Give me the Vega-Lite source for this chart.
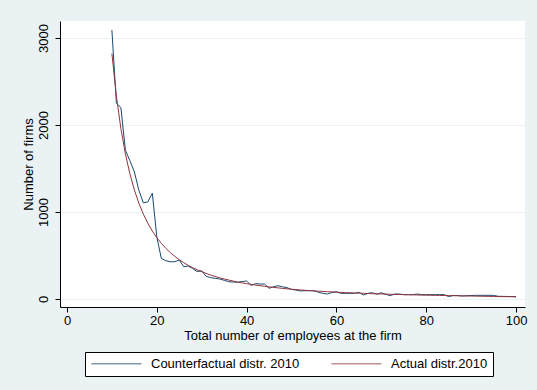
{
  "$schema": "https://vega.github.io/schema/vega-lite/v6.json",
  "autosize": {"type": "none"},
  "padding": {"left": 60, "top": 21, "right": 12, "bottom": 83},
  "width": 465,
  "height": 286,
  "background": "#EAF2F3",
  "config": {
    "view": {"fill": "white", "stroke": null},
    "font": "Liberation Sans",
    "axis": {
      "labelFont": "Liberation Sans", "titleFont": "Liberation Sans",
      "labelFontSize": 13, "titleFontSize": 13, "labelColor": "#000", "titleColor": "#000",
      "titleFontWeight": "normal", "domainColor": "#000", "tickColor": "#000",
      "tickSize": 5, "domainWidth": 1, "tickWidth": 1
    },
    "legend": {"labelFont": "Liberation Sans", "labelFontSize": 13, "labelColor": "#000"}
  },
  "datasets": {
    "cf": [
      {"employees":10,"firms":3090},{"employees":11,"firms":2250},{"employees":12,"firms":2200},{"employees":13,"firms":1711},{"employees":14,"firms":1590},
      {"employees":15,"firms":1462},{"employees":16,"firms":1250},{"employees":17,"firms":1105},{"employees":18,"firms":1115},{"employees":19,"firms":1215},
      {"employees":20,"firms":715},{"employees":21,"firms":467},{"employees":22,"firms":440},{"employees":23,"firms":428},{"employees":24,"firms":428},
      {"employees":25,"firms":448},{"employees":26,"firms":371},{"employees":27,"firms":379},{"employees":28,"firms":350},{"employees":29,"firms":315},
      {"employees":30,"firms":325},{"employees":31,"firms":260},{"employees":32,"firms":245},{"employees":33,"firms":238},{"employees":34,"firms":230},
      {"employees":35,"firms":215},{"employees":36,"firms":199},{"employees":37,"firms":195},{"employees":38,"firms":192},{"employees":39,"firms":200},
      {"employees":40,"firms":207},{"employees":41,"firms":156},{"employees":42,"firms":176},{"employees":43,"firms":172},{"employees":44,"firms":172},
      {"employees":45,"firms":123},{"employees":46,"firms":140},{"employees":47,"firms":153},{"employees":48,"firms":140},{"employees":49,"firms":130},
      {"employees":50,"firms":110},{"employees":51,"firms":103},{"employees":52,"firms":92},{"employees":53,"firms":95},{"employees":54,"firms":95},
      {"employees":55,"firms":95},{"employees":56,"firms":77},{"employees":57,"firms":65},{"employees":58,"firms":57},{"employees":59,"firms":75},
      {"employees":60,"firms":84},{"employees":61,"firms":65},{"employees":62,"firms":65},{"employees":63,"firms":65},{"employees":64,"firms":65},
      {"employees":65,"firms":77},{"employees":66,"firms":46},{"employees":67,"firms":65},{"employees":68,"firms":72},{"employees":69,"firms":55},
      {"employees":70,"firms":72},{"employees":71,"firms":54},{"employees":72,"firms":38},{"employees":73,"firms":57},{"employees":74,"firms":57},
      {"employees":75,"firms":50},{"employees":76,"firms":50},{"employees":77,"firms":50},{"employees":78,"firms":57},{"employees":79,"firms":50},
      {"employees":80,"firms":50},{"employees":81,"firms":50},{"employees":82,"firms":50},{"employees":83,"firms":50},{"employees":84,"firms":50},
      {"employees":85,"firms":28},{"employees":86,"firms":40},{"employees":87,"firms":40},{"employees":88,"firms":34},{"employees":89,"firms":38},
      {"employees":90,"firms":40},{"employees":91,"firms":42},{"employees":92,"firms":42},{"employees":93,"firms":42},{"employees":94,"firms":42},
      {"employees":95,"firms":42},{"employees":96,"firms":31},{"employees":97,"firms":30},{"employees":98,"firms":29},{"employees":99,"firms":28},
      {"employees":100,"firms":27}
    ],
    "act": [
      {"employees":10,"firms":2821},{"employees":11,"firms":2331},{"employees":12,"firms":1959},{"employees":13,"firms":1669},{"employees":14,"firms":1439},
      {"employees":15,"firms":1254},{"employees":16,"firms":1102},{"employees":17,"firms":976},{"employees":18,"firms":871},{"employees":19,"firms":781},
      {"employees":20,"firms":705},{"employees":21,"firms":640},{"employees":22,"firms":583},{"employees":23,"firms":533},{"employees":24,"firms":490},
      {"employees":25,"firms":451},{"employees":26,"firms":417},{"employees":27,"firms":387},{"employees":28,"firms":360},{"employees":29,"firms":335},
      {"employees":30,"firms":313},{"employees":31,"firms":294},{"employees":32,"firms":275},{"employees":33,"firms":259},{"employees":34,"firms":244},
      {"employees":35,"firms":230},{"employees":36,"firms":218},{"employees":37,"firms":206},{"employees":38,"firms":195},{"employees":39,"firms":185},
      {"employees":40,"firms":176},{"employees":41,"firms":168},{"employees":42,"firms":160},{"employees":43,"firms":153},{"employees":44,"firms":146},
      {"employees":45,"firms":139},{"employees":46,"firms":133},{"employees":47,"firms":128},{"employees":48,"firms":122},{"employees":49,"firms":117},
      {"employees":50,"firms":113},{"employees":51,"firms":108},{"employees":52,"firms":104},{"employees":53,"firms":100},{"employees":54,"firms":97},
      {"employees":55,"firms":93},{"employees":56,"firms":90},{"employees":57,"firms":87},{"employees":58,"firms":84},{"employees":59,"firms":81},
      {"employees":60,"firms":78},{"employees":61,"firms":76},{"employees":62,"firms":73},{"employees":63,"firms":71},{"employees":64,"firms":69},
      {"employees":65,"firms":67},{"employees":66,"firms":65},{"employees":67,"firms":63},{"employees":68,"firms":61},{"employees":69,"firms":59},
      {"employees":70,"firms":58},{"employees":71,"firms":56},{"employees":72,"firms":54},{"employees":73,"firms":53},{"employees":74,"firms":52},
      {"employees":75,"firms":50},{"employees":76,"firms":49},{"employees":77,"firms":48},{"employees":78,"firms":46},{"employees":79,"firms":45},
      {"employees":80,"firms":44},{"employees":81,"firms":43},{"employees":82,"firms":42},{"employees":83,"firms":41},{"employees":84,"firms":40},
      {"employees":85,"firms":39},{"employees":86,"firms":38},{"employees":87,"firms":37},{"employees":88,"firms":36},{"employees":89,"firms":35},
      {"employees":90,"firms":34},{"employees":91,"firms":33},{"employees":92,"firms":32},{"employees":93,"firms":31},{"employees":94,"firms":30},
      {"employees":95,"firms":29},{"employees":96,"firms":28},{"employees":97,"firms":27},{"employees":98,"firms":27},{"employees":99,"firms":26},
      {"employees":100,"firms":25}
    ]
  },
  "encoding": {
    "x": {
      "field": "employees", "type": "quantitative",
      "scale": {"domain": [-1.56, 102], "nice": false, "zero": false},
      "axis": {"values": [0, 20, 40, 60, 80, 100], "grid": false, "title": "Total number of employees at the firm",
               "labelPadding": 2, "titlePadding": 2}
    },
    "y": {
      "field": "firms", "type": "quantitative",
      "scale": {"domain": [-92, 3195], "nice": false, "zero": false},
      "axis": {"values": [0, 1000, 2000, 3000], "format": "d", "grid": true, "gridColor": "#EAF2F3", "gridWidth": 1,
               "title": "Number of firms", "labelAngle": -90, "labelAlign": "center", "labelBaseline": "bottom",
               "labelPadding": 5, "titlePadding": 2}
    },
    "color": {
      "field": "series", "type": "nominal",
      "scale": {"domain": ["Counterfactual distr. 2010", "Actual distr.2010"], "range": ["#1a476f", "#90353b"]},
      "legend": {
        "orient": "none", "legendX": 25, "legendY": 331, "direction": "horizontal", "columns": 2,
        "title": null, "strokeColor": "#000", "fillColor": "white", "padding": 5,
        "symbolType": "M-1,0H9", "symbolSize": 100, "symbolStrokeWidth": 1.5, "symbolOpacity": 0.55,
        "labelOffset": 48, "columnPadding": 28, "labelLimit": 300
      }
    }
  },
  "layer": [
    {
      "data": {"name": "cf"},
      "transform": [{"calculate": "'Counterfactual distr. 2010'", "as": "series"}],
      "mark": {"type": "line", "strokeWidth": 1}
    },
    {
      "data": {"name": "act"},
      "transform": [{"calculate": "'Actual distr.2010'", "as": "series"}],
      "mark": {"type": "line", "strokeWidth": 1}
    }
  ]
}
